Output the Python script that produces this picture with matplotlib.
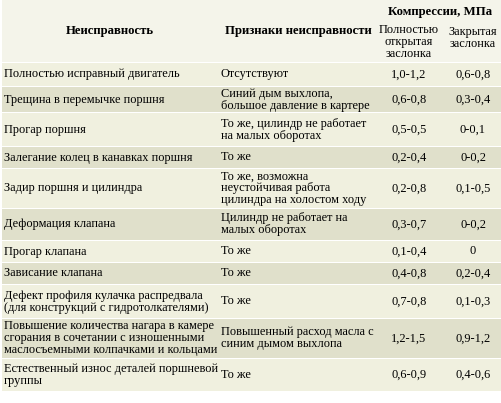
import matplotlib
matplotlib.use('Agg')
import matplotlib.pyplot as plt
from matplotlib.patches import Rectangle
from matplotlib import font_manager

plt.rcParams['font.family'] = ['Liberation Serif', 'DejaVu Serif']

# --- данные таблицы ---
header_main = 'Компрессии, МПа'
col_titles = ['Неисправность', 'Признаки неисправности',
              'Полностью\nоткрытая\nзаслонка', 'Закрытая\nзаслонка']
faults = [
    'Полностью исправный двигатель',
    'Трещина в перемычке поршня',
    'Прогар поршня',
    'Залегание колец в канавках поршня',
    'Задир поршня и цилиндра',
    'Деформация клапана',
    'Прогар клапана',
    'Зависание клапана',
    'Дефект профиля кулачка распредвала\n(для конструкций с гидротолкателями)',
    'Повышение количества нагара в камере\nсгорания в сочетании с изношенными\nмаслосъемными колпачками и кольцами',
    'Естественный износ деталей поршневой\nгруппы',
]
signs = [
    'Отсутствуют',
    'Синий дым выхлопа,\nбольшое давление в картере',
    'То же, цилиндр не работает\nна малых оборотах',
    'То же',
    'То же, возможна\nнеустойчивая работа\nцилиндра на холостом ходу',
    'Цилиндр не работает на\nмалых оборотах',
    'То же',
    'То же',
    'То же',
    'Повышенный расход масла с\nсиним дымом выхлопа',
    'То же',
]
open_valve = ['1,0-1,2', '0,6-0,8', '0,5-0,5', '0,2-0,4', '0,2-0,8', '0,3-0,7',
              '0,1-0,4', '0,4-0,8', '0,7-0,8', '1,2-1,5', '0,6-0,9']
closed_valve = ['0,6-0,8', '0,3-0,4', '0-0,1', '0-0,2', '0,1-0,5', '0-0,2',
                '0', '0,2-0,4', '0,1-0,3', '0,9-1,2', '0,4-0,6']

# границы строк в пикселях
row_edges = [62, 86, 112, 146, 168, 208, 240, 262, 284, 318, 358, 391]

fig = plt.figure(figsize=(5.02, 4.03), dpi=100)
ax = fig.add_axes([0, 0, 1, 1])
ax.set_xlim(0, 502)
ax.set_ylim(403, 0)
ax.axis('off')

fs = 8.9
fp = font_manager.FontProperties(fname=font_manager.findfont('Liberation Serif'), size=fs)
fpb = font_manager.FontProperties(fname=font_manager.findfont(
    font_manager.FontProperties(family='Liberation Serif', weight='bold')), size=fs + 0.3)

ax.add_patch(Rectangle((2, 0), 500, 62, color='#f4f4ea', lw=0))
light, dark = '#f0f0df', '#e0e0cb'
for i in range(len(faults)):
    y0, y1 = row_edges[i], row_edges[i + 1]
    ax.add_patch(Rectangle((2, y0 + 1), 500, y1 - y0 - 1,
                           color=light if i % 2 == 0 else dark, lw=0))
    yc = (y0 + y1) / 2 + 0.5
    ax.text(4, yc, faults[i], va='center', ha='left', fontproperties=fp, linespacing=1.0)
    ax.text(221, yc, signs[i], va='center', ha='left', fontproperties=fp, linespacing=1.0)
    ax.text(409, yc, open_valve[i], va='center', ha='center', fontproperties=fp)
    ax.text(473, yc, closed_valve[i], va='center', ha='center', fontproperties=fp)

ax.text(110, 31, col_titles[0], ha='center', va='center', fontproperties=fpb)
ax.text(298, 31, col_titles[1], ha='center', va='center', fontproperties=fpb)
ax.text(440, 12, header_main, ha='center', va='center', fontproperties=fpb)
ax.text(409, 42, col_titles[2], ha='center', va='center', fontproperties=fp, linespacing=1.0)
ax.text(473, 38, col_titles[3], ha='center', va='center', fontproperties=fp, linespacing=1.0)

fig.savefig('out.png', dpi=100, facecolor='white')
